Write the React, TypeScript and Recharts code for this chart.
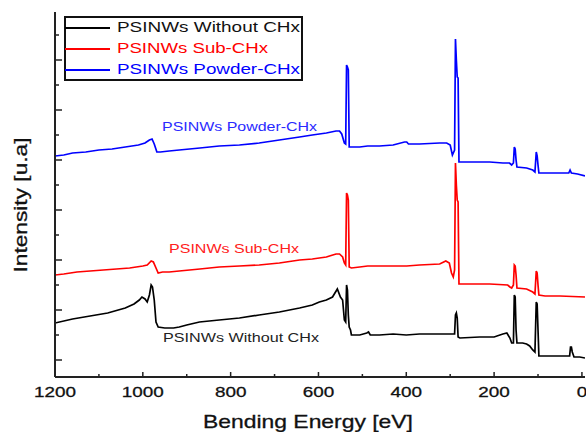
import React from 'react';
import { LineChart, Line, XAxis, YAxis } from 'recharts';

// [binding energy (eV), intensity (a.u.)]
const withoutCHx: [number, number][] = [
  [1200, 37], [1160, 41], [1120, 44], [1080, 47], [1040, 52], [1020, 56], [1008, 60], [1002, 63], [995, 61], [990, 58],
  [985, 65], [981, 75], [978, 73], [974, 60], [970, 38], [965, 33], [950, 32], [930, 32], [917, 33], [900, 35],
  [871, 38], [826, 40], [780, 42], [735, 45], [689, 48], [643, 52], [614, 55], [598, 58], [582, 60], [568, 63],
  [557, 71], [550, 63], [545, 60], [541, 40], [538, 38], [536, 75], [534, 70], [532, 45], [530, 33], [527, 30],
  [525, 25], [506, 25], [490, 27], [486, 28], [482, 25], [461, 25], [430, 26], [400, 25], [370, 26], [324, 26],
  [290, 26], [288, 45], [286, 47], [284, 42], [282, 23], [278, 22], [233, 23], [200, 23], [180, 26], [171, 27],
  [164, 22], [160, 17], [156, 17], [154, 65], [152, 63], [150, 30], [148, 17], [135, 17], [126, 16], [119, 14],
  [112, 10], [107, 8], [104, 58], [102, 56], [100, 30], [98, 4], [84, 4], [50, 4], [28, 4], [26, 13],
  [24, 13], [22, 8], [18, 3], [5, 3], [-7, 2],
];

const subCHx: [number, number][] = [
  [1200, 85], [1180, 86], [1150, 88], [1120, 89], [1090, 90], [1060, 91], [1030, 92], [1000, 94], [990, 95], [981, 99],
  [976, 98], [970, 92], [965, 87], [955, 88], [940, 88], [917, 89], [870, 91], [826, 93], [780, 94], [735, 95],
  [689, 97], [643, 100], [614, 101], [582, 103], [560, 106], [552, 106], [545, 103], [541, 97], [538, 95], [536, 167],
  [534, 165], [532, 160], [530, 93], [525, 92], [506, 93], [488, 94], [461, 94], [430, 94], [399, 94], [370, 95],
  [324, 96], [310, 99], [302, 97], [297, 87], [293, 83], [290, 90], [288, 197], [286, 175], [284, 160], [282, 158],
  [280, 76], [256, 76], [210, 76], [169, 75], [164, 73], [160, 72], [156, 75], [154, 95], [152, 94], [150, 85],
  [148, 72], [126, 71], [112, 68], [107, 66], [104, 89], [102, 87], [100, 75], [98, 65], [84, 64], [50, 64],
  [-7, 63],
];

const powderCHx: [number, number][] = [
  [1200, 204], [1180, 205], [1160, 207], [1130, 208], [1100, 210], [1070, 211], [1040, 213], [1010, 215], [995, 217], [985, 220],
  [979, 221], [974, 216], [968, 208], [960, 208], [940, 209], [917, 210], [870, 212], [826, 214], [780, 215], [735, 217],
  [689, 220], [643, 223], [614, 225], [582, 227], [560, 229], [552, 229], [547, 226], [541, 217], [538, 216], [536, 295],
  [534, 293], [532, 290], [530, 213], [527, 213], [506, 213], [488, 214], [461, 214], [430, 215], [404, 218], [399, 218],
  [395, 216], [370, 216], [324, 217], [308, 217], [300, 215], [295, 205], [290, 210], [288, 321], [286, 300], [284, 283],
  [282, 282], [280, 198], [270, 198], [256, 198], [233, 198], [210, 198], [180, 197], [165, 197], [160, 195], [156, 197],
  [154, 213], [152, 211], [150, 200], [148, 193], [126, 192], [112, 190], [107, 188], [104, 208], [102, 204], [100, 195],
  [98, 187], [84, 187], [50, 187], [30, 187], [27, 190], [24, 187], [10, 186], [-7, 184],
];

const seriesNames = ['PSINWs Without CHx', 'PSINWs Sub-CHx', 'PSINWs Powder-CHx'];
const seriesColors = ['#000000', '#ff0000', '#0000ff'];
const xTicks = [1200, 1100, 1000, 900, 800, 700, 600, 500, 400, 300, 200, 100, 0];
const yTicks = [0, 25, 50, 75, 100, 125, 150, 175, 200, 225, 250, 275, 300, 325];
const xTitle = 'Bending Energy [eV]';
const yTitle = 'Intensity [u.a]';

const toRows = (pts: [number, number][]) => pts.map(([e, i]) => ({ e, i }));
const seriesData = [toRows(withoutCHx), toRows(subCHx), toRows(powderCHx)];

const FONT = '"Liberation Sans", Arial, sans-serif';
const AXIS = '#222';

const XTick = (p: any) => {
  const v = p.payload.value;
  const major = v % 200 === 0;
  const s = String(v);
  return (
    <g>
      <line x1={p.x} x2={p.x} y1={p.y} y2={p.y - (major ? 5 : 3)} stroke={AXIS} strokeWidth={1.5} />
      {major && (
        <text x={p.x} y={p.y + 20} textAnchor="middle" fontFamily={FONT} fontSize={15} fill="#111"
          stroke="#111" strokeWidth={0.3}
          textLength={s.length * 10.5} lengthAdjust="spacingAndGlyphs">{s}</text>
      )}
    </g>
  );
};

const YTick = (p: any) => {
  const v = p.payload.value;
  const major = v % 50 === 0;
  return <line x1={p.x} x2={p.x + (major ? 7 : 4)} y1={p.y} y2={p.y} stroke={AXIS} strokeWidth={1.5} />;
};

const annotations = [
  { text: seriesNames[2], x: 162, y: 131, len: 155, color: '#2a2aff' },
  { text: seriesNames[1], x: 169, y: 253, len: 130, color: '#ff2020' },
  { text: seriesNames[0], x: 163, y: 342, len: 156, color: '#222' },
];

export default function App() {
  return (
    <div style={{ position: 'absolute', left: 0, top: 0, width: 586, height: 432, background: '#fff' }}>
      <LineChart width={586} height={432} margin={{ top: 12, right: 1, bottom: 0, left: 0 }}>
        <XAxis xAxisId="b" type="number" dataKey="e" domain={[-7, 1200]} reversed allowDataOverflow
          ticks={xTicks} interval={0} height={55} tickSize={0} tickMargin={0} tickLine={false}
          axisLine={{ stroke: AXIS, strokeWidth: 2 }} tick={(p: any) => <XTick {...p} />} />
        <XAxis xAxisId="t" orientation="top" type="number" dataKey="e" domain={[-7, 1200]} reversed allowDataOverflow
          height={0} tick={false} tickLine={false} axisLine={{ stroke: AXIS, strokeWidth: 2 }} />
        <YAxis yAxisId="l" type="number" domain={[-17, 348]} allowDataOverflow ticks={yTicks} interval={0}
          width={55} tickSize={0} tickMargin={0} tickLine={false}
          axisLine={{ stroke: AXIS, strokeWidth: 2 }} tick={(p: any) => <YTick {...p} />} />
        <YAxis yAxisId="r" orientation="right" type="number" domain={[-17, 348]} allowDataOverflow
          width={0} tick={false} tickLine={false} axisLine={{ stroke: AXIS, strokeWidth: 2 }} />
        {seriesData.map((d, k) => (
          <Line key={seriesNames[k]} xAxisId="b" yAxisId="l" data={d} dataKey="i" type="linear"
            stroke={seriesColors[k]} strokeWidth={1.7} dot={false} isAnimationActive={false} />
        ))}
      </LineChart>
      <svg width={586} height={432} style={{ position: 'absolute', left: 0, top: 0, pointerEvents: 'none' }}>
        <rect x={65} y={17} width={237} height={63} fill="#fff" stroke="#111" strokeWidth={2} />
        {seriesNames.map((n, k) => (
          <g key={n}>
            <line x1={65} x2={110} y1={28 + k * 21} y2={28 + k * 21} stroke={seriesColors[k]} strokeWidth={2} />
            <text x={117} y={32 + k * 21} fontFamily={FONT} fontSize={15} fill={k === 0 ? '#111' : seriesColors[k]}
              textLength={[183, 151, 183][k]} lengthAdjust="spacingAndGlyphs">{n}</text>
          </g>
        ))}
        {annotations.map((a) => (
          <text key={a.text} x={a.x} y={a.y} fontFamily={FONT} fontSize={13} fill={a.color}
            textLength={a.len} lengthAdjust="spacingAndGlyphs">{a.text}</text>
        ))}
        <text x={203} y={428} fontFamily={FONT} fontSize={19} fill="#111" stroke="#111" strokeWidth={0.3}
          textLength={210} lengthAdjust="spacingAndGlyphs">{xTitle}</text>
        <text x={0} y={0} transform="translate(27,205) rotate(-90)" textAnchor="middle" fontFamily={FONT}
          fontSize={19} fill="#111" stroke="#111" strokeWidth={0.3}
          textLength={135} lengthAdjust="spacingAndGlyphs">{yTitle}</text>
      </svg>
    </div>
  );
}
